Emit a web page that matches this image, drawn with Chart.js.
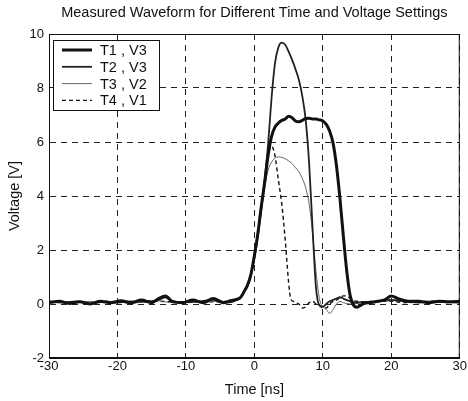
<!DOCTYPE html>
<html>
<head>
<meta charset="utf-8">
<script src="https://cdn.jsdelivr.net/npm/chart.js@4/dist/chart.umd.min.js"></script>
<style>
  html, body { margin:0; padding:0; background:#fff; }
  #wrap { width:468px; height:401px; }
</style>
</head>
<body>
<div id="wrap"><canvas id="c" width="468" height="401"></canvas></div>
<script>
// Measured waveforms (time in ns, voltage in V)
const xTicks = [-30, -20, -10, 0, 10, 20, 30];
const yTicks = [-2, 0, 2, 4, 6, 8, 10];
const seriesNames = ['T1 , V3', 'T2 , V3', 'T3 , V2', 'T4 , V1'];
const chartTitle = 'Measured Waveform for Different Time and Voltage Settings';

const t1Time = [-30,-28.5,-27,-25.5,-24,-22.5,-21,-19.5,-18,-16.5,-15,-14,-13,-12,-10.5,-9,-7.5,-6,-4.5,-3.5,-2.5,-2,-1.5,-1,-0.5,0,0.5,1,1.5,2,2.5,3,3.5,4,4.5,5,5.5,6,6.5,7,7.5,8,8.5,9,9.5,10,10.5,11,11.5,12,12.5,13,13.5,14,14.5,15,15.5,16,17,18,19,20,21,22.5,24,25.5,27,28.5,30];
const t1Volt = [0.05,0.1,0.02,0.08,0.0,0.1,0.05,0.12,0.05,0.15,0.05,0.2,0.3,0.1,0.05,0.15,0.05,0.2,0.05,0.12,0.18,0.25,0.46,0.7,1.1,1.8,2.6,3.6,4.5,5.5,6.2,6.55,6.7,6.8,6.85,6.95,6.9,6.78,6.75,6.8,6.87,6.88,6.85,6.85,6.82,6.78,6.65,6.4,5.95,5.1,3.9,2.5,1.2,0.3,-0.05,-0.12,-0.05,0.02,0.05,0.1,0.15,0.3,0.2,0.1,0.1,0.05,0.1,0.08,0.1];

const t2Time = [-30,-28,-26,-24,-22,-20,-18,-16,-14,-13,-12,-10,-8,-6,-4.5,-3,-2,-1.5,-1,-0.5,0,0.5,1,1.5,2,2.5,3,3.5,4,4.5,5,5.5,6,6.5,7,7.5,8,8.5,9,9.5,10,10.5,11,11.5,12,12.5,13,14,15,16,18,20,22,24,26,28,30];
const t2Volt = [0.08,0.05,0.1,0.02,0.08,0.05,0.1,0.08,0.15,0.25,0.1,0.08,0.1,0.15,0.05,0.1,0.25,0.45,0.7,1.1,1.7,2.5,3.5,4.6,5.9,7.6,8.9,9.5,9.68,9.6,9.35,9.05,8.7,8.3,7.7,6.8,5.2,2.8,0.6,-0.05,-0.1,0.0,0.1,0.15,0.2,0.25,0.2,0.1,0.05,0.08,0.1,0.15,0.1,0.05,0.1,0.08,0.05];

const t3Time = [-30,-28,-26,-24,-22,-20,-18,-16,-14,-12,-10,-8,-6,-4,-3,-2,-1.5,-1,-0.5,0,0.5,1,1.5,2,2.5,3,3.5,4,4.5,5,5.5,6,6.5,7,7.5,8,8.5,9,9.5,10,10.5,11,11.5,12,12.5,13,14,16,18,20,22,24,26,28,30];
const t3Volt = [0.02,0.08,0.05,0.1,0.05,0.08,0.02,0.1,0.12,0.05,0.1,0.05,0.1,0.05,0.1,0.22,0.42,0.68,1.05,1.7,2.5,3.4,4.3,4.95,5.25,5.4,5.45,5.43,5.38,5.3,5.2,5.05,4.9,4.65,4.3,3.7,2.6,1.2,0.2,-0.1,-0.2,-0.35,-0.2,0.0,0.1,0.05,0.0,0.05,0.1,0.12,0.1,0.05,0.08,0.05,0.05];

const t4Time = [-30,-28,-26,-24,-22,-20,-18,-16,-14,-12,-10,-8,-6,-4,-3,-2,-1.5,-1,-0.5,0,0.5,1,1.5,2,2.5,3,3.5,4,4.5,5,5.3,5.7,6,6.5,7,7.5,8,8.5,9,9.5,10,10.5,11,11.5,12,13,13.5,14,15,16,18,20,22,24,26,28,30];
const t4Volt = [0.1,0.05,0.08,0.05,0.1,0.08,0.05,0.12,0.1,0.08,0.05,0.1,0.08,0.1,0.12,0.24,0.44,0.7,1.08,1.75,2.6,3.5,4.5,5.45,5.85,5.5,4.6,3.7,2.4,0.8,0.2,0.1,0.05,0.0,-0.15,-0.1,0.05,0.1,0.0,-0.05,-0.15,-0.15,0.0,0.1,0.15,0.3,0.3,0.2,0.1,0.08,0.1,0.1,0.05,0.08,0.1,0.05,0.1];

const styles = [
  { color:'#111', width:3,   dash:[] },
  { color:'#222', width:1.8, dash:[] },
  { color:'#666', width:1,   dash:[] },
  { color:'#111', width:1.4, dash:[4,3] }
];

function pts(ts, vs){ return ts.map((t,i)=>({x:t, y:vs[i]})); }
const series = [pts(t1Time,t1Volt), pts(t2Time,t2Volt), pts(t3Time,t3Volt), pts(t4Time,t4Volt)];

const datasets = series.map((d,i)=>({
  label: seriesNames[i],
  data: d,
  borderColor: styles[i].color,
  borderWidth: styles[i].width,
  borderDash: styles[i].dash,
  pointRadius: 0,
  fill: false,
  cubicInterpolationMode: 'monotone'
}));

const font = 'Arial, "Liberation Sans", sans-serif';

// full box round the plot, like the matlab axes, and title centred over the axes
const frame = {
  id:'frame',
  afterDraw(chart){
    const a = chart.chartArea, ctx = chart.ctx;
    ctx.save();
    ctx.strokeStyle = '#111'; ctx.lineWidth = 1;
    ctx.strokeRect(a.left+0.5, a.top+0.5, a.right-a.left-1, a.bottom-a.top-1);
    ctx.fillStyle = '#111';
    ctx.font = '14.5px ' + font;
    ctx.textAlign = 'center'; ctx.textBaseline = 'middle';
    ctx.fillText(chartTitle, (a.left+a.right)/2, 13);
    ctx.restore();
  }
};

// legend box drawn inside the upper left of the axes
const boxLegend = {
  id:'boxLegend',
  afterDraw(chart){
    const a = chart.chartArea, ctx = chart.ctx;
    const x0 = a.left+4, y0 = a.top+6, w = 106, h = 70;
    ctx.save();
    ctx.fillStyle = '#fff';
    ctx.fillRect(x0, y0, w, h);
    ctx.strokeStyle = '#111'; ctx.lineWidth = 1;
    ctx.strokeRect(x0+0.5, y0+0.5, w, h);
    ctx.font = '14.5px ' + font;
    ctx.textBaseline = 'middle';
    seriesNames.forEach((name,i)=>{
      const y = y0 + 10 + i*16.8;
      ctx.strokeStyle = styles[i].color;
      ctx.lineWidth = styles[i].width;
      ctx.setLineDash(styles[i].dash);
      ctx.beginPath(); ctx.moveTo(x0+9, y); ctx.lineTo(x0+39, y); ctx.stroke();
      ctx.setLineDash([]);
      ctx.fillStyle = '#111';
      ctx.fillText(name, x0+47, y+1);
    });
    ctx.restore();
  }
};

new Chart(document.getElementById('c'), {
  type: 'line',
  data: { datasets },
  options: {
    responsive: false,
    animation: false,
    layout: { padding: { left:0, right:8, top:34, bottom:0 } },
    plugins: {
      legend: { display:false },
      tooltip: { enabled:false },
      title: { display:false }
    },
    scales: {
      x: {
        type: 'linear', min: -30, max: 30,
        afterBuildTicks(s){ s.ticks = xTicks.map(v=>({value:v})); },
        afterFit(s){ s.height = 43; },
        ticks: { color:'#111', padding:1, font:{ family:font, size:13 }, maxRotation:0 },
        grid: { color:'#222', lineWidth:1, drawTicks:false },
        border: { display:true, color:'#111', dash:[6,5] },
        title: { display:true, text:'Time [ns]', color:'#111', font:{ family:font, size:14.5 }, padding:{ top:0, bottom:2 } }
      },
      y: {
        type: 'linear', min: -2, max: 10,
        afterBuildTicks(s){ s.ticks = yTicks.map(v=>({value:v})); },
        afterFit(s){ s.width = 49; },
        ticks: { color:'#111', padding:5, font:{ family:font, size:13 } },
        grid: { color:'#222', lineWidth:1, drawTicks:false },
        border: { display:true, color:'#111', dash:[6,5] },
        title: { display:true, text:'Voltage [V]', color:'#111', font:{ family:font, size:14.5 }, padding:{ top:6, bottom:0 } }
      }
    }
  },
  plugins: [frame, boxLegend]
});
</script>
</body>
</html>
